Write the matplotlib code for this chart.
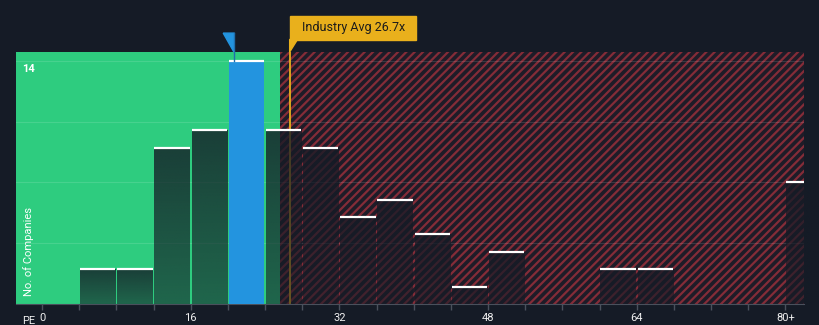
import numpy as np
import matplotlib
matplotlib.use("Agg")
import matplotlib.pyplot as plt
from matplotlib.patches import Polygon, Rectangle
import matplotlib.transforms as mtransforms

plt.rcParams['font.family'] = ['Roboto', 'DejaVu Sans']
plt.rcParams['hatch.linewidth'] = 1.6

# PE histogram bins (left edges) and number of companies
bin_left = [0, 4, 8, 12, 16, 20, 24, 28, 32, 36, 40, 44, 48, 52, 56, 60, 64, 68, 72, 76, 80]
counts = [0, 2, 2, 9, 10, 14, 10, 9, 5, 6, 4, 1, 3, 0, 0, 2, 2, 0, 0, 0, 7]
company_pe = 20.7
industry_avg = 26.7
fair_limit = 25.6
tick_labels = {0: '0', 16: '16', 32: '32', 48: '48', 64: '64', 80: '80+'}

bg = '#151b26'
green = '#2ecc7f'
blue = '#2394df'
yellow = '#e9b01c'

fig = plt.figure(figsize=(8.2, 3.25), dpi=100, facecolor=bg)
ax = fig.add_axes([16 / 820, 21 / 325, 788 / 820, 252 / 325])
ax.set_facecolor(bg)
xmin, xmax = -2.8, 82.0
ymax = 14.5

# background zones
ax.axvspan(xmin, fair_limit, color=green, lw=0, zorder=0)
ax.axvspan(fair_limit, xmax, facecolor='#1e1c28', edgecolor='#842c38',
           hatch='////', lw=0, zorder=0)

for g in [3.5, 7, 10.5, 14]:
    ax.axhline(g, color='white', alpha=0.12, lw=0.8, zorder=1)

ax.axvline(industry_avg, color=yellow, lw=1.3, zorder=2)

# bars with a vertical dark gradient
grad = np.zeros((50, 1, 4))
grad[..., 0] = 21 / 255
grad[..., 1] = 27 / 255
grad[..., 2] = 38 / 255
grad[:, 0, 3] = np.linspace(0.80, 0.58, 50)

w = 3.8
for left, c in zip(bin_left, counts):
    if c == 0:
        continue
    x0 = left + 0.1
    if left <= company_pe < left + 4:
        ax.bar(x0, c, width=w, align='edge', color=blue, lw=0, zorder=3)
    else:
        b = ax.bar(x0, c, width=w, align='edge', color='none', lw=0, zorder=3)[0]
        im = ax.imshow(grad, extent=[x0, x0 + w, 0, c], aspect='auto',
                       origin='upper', zorder=3, interpolation='bilinear')
        im.set_clip_path(b)
    ax.hlines(c, x0, x0 + w, color='white', lw=1.6, zorder=4)

ax.set_xlim(xmin, xmax)
ax.set_ylim(0, ymax)

# markers above the plot
trans = mtransforms.blended_transform_factory(ax.transData, ax.transAxes)
ax.add_patch(Polygon([(company_pe - 1.2, 1.075), (company_pe, 1.075), (company_pe - 0.05, 1.0)],
                     closed=True, color=blue, transform=trans, clip_on=False, zorder=5))
ax.plot([company_pe, company_pe], [1.075, 0.965], color='#1f6fae', lw=1.0,
        transform=trans, clip_on=False, zorder=5)

ax.add_patch(Rectangle((industry_avg - 0.05, 1.048), 13.6, 0.095, color=yellow,
                       transform=trans, clip_on=False, zorder=5))
ax.add_patch(Polygon([(industry_avg - 0.05, 1.05), (industry_avg + 0.8, 1.05), (industry_avg - 0.05, 1.0)],
                     closed=True, color=yellow, transform=trans, clip_on=False, zorder=5))
ax.text(industry_avg + 6.8, 1.096, 'Industry Avg 26.7x', transform=trans, ha='center',
        va='center', fontsize=9, color='#1b1b1b', zorder=6)

# axes styling
for s in ['top', 'left', 'right']:
    ax.spines[s].set_visible(False)
ax.spines['bottom'].set_color('#4a505c')
ax.set_yticks([])
ticks = list(range(0, 81, 4))
ax.set_xticks(ticks)
ax.set_xticklabels([tick_labels.get(t, '') for t in ticks])
ax.tick_params(axis='x', colors='#4a505c', length=4, width=1, pad=2.5, labelsize=8,
               labelcolor='#f0f0f0')

ax.text(-2.1, 13.55, '14', ha='left', va='center', fontsize=8, color='white',
        fontweight='bold', zorder=6)
ax.text(-1.5, 3.0, 'No. of Companies', rotation=90, ha='center', va='center',
        fontsize=8, color='white', zorder=6)
fig.text(22 / 820, 4.5 / 325, 'PE', ha='left', va='center', fontsize=8, color='#f0f0f0')

fig.savefig('out.png', dpi=100, facecolor=bg)
